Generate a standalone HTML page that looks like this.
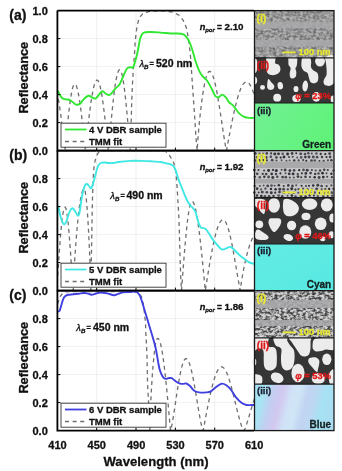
<!DOCTYPE html>
<html><head><meta charset="utf-8"><style>
html,body{margin:0;padding:0;background:#fff;width:342px;height:471px;overflow:hidden;font-family:"Liberation Sans",sans-serif;}
svg{display:block;filter:blur(0.45px);}
</style></head><body>
<svg width="342" height="471" viewBox="0 0 342 471">
<rect width="342" height="471" fill="#fff"/>
<defs><clipPath id="cp0"><rect x="57.4" y="10.6" width="196.6" height="140.0"/></clipPath></defs>
<path d="M57.4,122.6H254.0 M57.4,94.6H254.0 M57.4,66.6H254.0 M57.4,38.6H254.0 M96.7,10.6V150.6 M136.0,10.6V150.6 M175.4,10.6V150.6 M214.7,10.6V150.6" stroke="#ebebeb" stroke-width="0.8" fill="none"/>
<g clip-path="url(#cp0)">
<path d="M56.50,91.57 L57.00,93.29 L57.50,95.31 L58.00,97.60 L58.50,100.17 L59.00,102.99 L59.50,106.05 L60.00,109.34 L60.50,112.85 L61.00,116.54 L61.50,120.41 L62.00,124.43 L62.50,128.58 L63.00,132.85 L63.50,137.21 L64.00,141.63 L64.50,146.11 L65.00,150.60 L65.00,150.60 L65.51,145.17 L66.02,139.77 L66.52,134.45 L67.03,129.24 L67.54,124.17 L68.05,119.27 L68.55,114.58 L69.06,110.14 L69.57,105.96 L70.08,102.09 L70.58,98.53 L71.09,95.33 L71.60,92.49 L72.11,90.05 L72.61,88.00 L73.12,86.38 L73.63,85.18 L74.14,84.43 L74.64,84.11 L75.15,84.22 L75.66,84.71 L76.16,85.57 L76.67,86.81 L77.18,88.41 L77.69,90.36 L78.19,92.66 L78.70,95.29 L79.21,98.23 L79.72,101.47 L80.22,105.00 L80.73,108.78 L81.24,112.80 L81.75,117.04 L82.25,121.47 L82.76,126.07 L83.27,130.81 L83.78,135.65 L84.28,140.59 L84.79,145.58 L85.30,150.60 L85.30,150.60 L85.80,145.92 L86.30,141.25 L86.80,136.63 L87.30,132.07 L87.80,127.59 L88.30,123.22 L88.80,118.96 L89.30,114.85 L89.80,110.89 L90.30,107.11 L90.80,103.53 L91.30,100.15 L91.80,96.99 L92.30,94.07 L92.80,91.41 L93.30,89.00 L93.80,86.87 L94.30,85.02 L94.80,83.45 L95.30,82.19 L95.80,81.23 L96.30,80.58 L96.80,80.24 L97.30,80.21 L97.80,80.52 L98.30,81.17 L98.80,82.17 L99.30,83.51 L99.80,85.17 L100.30,87.15 L100.80,89.45 L101.30,92.05 L101.80,94.93 L102.30,98.09 L102.80,101.51 L103.30,105.17 L103.80,109.05 L104.30,113.13 L104.80,117.40 L105.30,121.84 L105.80,126.41 L106.30,131.11 L106.80,135.89 L107.30,140.76 L107.80,145.67 L108.30,150.60 L108.50,150.60 L109.00,144.88 L109.51,139.18 L110.01,133.55 L110.52,128.00 L111.02,122.56 L111.53,117.26 L112.03,112.13 L112.54,107.19 L113.04,102.47 L113.55,97.99 L114.05,93.77 L114.56,89.84 L115.06,86.21 L115.57,82.91 L116.07,79.94 L116.57,77.33 L117.08,75.09 L117.58,73.22 L118.09,71.74 L118.59,70.65 L119.10,69.97 L119.60,69.69 L120.11,69.83 L120.61,70.43 L121.12,71.49 L121.62,73.00 L122.13,74.95 L122.63,77.33 L123.13,80.13 L123.64,83.33 L124.14,86.92 L124.65,90.86 L125.15,95.15 L125.66,99.75 L126.16,104.64 L126.67,109.80 L127.17,115.19 L127.68,120.77 L128.18,126.53 L128.69,132.43 L129.19,138.43 L129.70,144.50 L130.20,150.60 L130.70,135.00 L131.20,120.40 L131.80,99.60 L132.50,83.20 L133.30,69.90 L134.40,55.00 L135.30,40.50 L136.50,30.00 L138.20,21.40 L140.30,16.50 L142.30,14.20 L148.40,11.60 L156.60,10.90 L164.80,10.90 L173.00,12.20 L179.10,15.20 L183.20,20.30 L186.30,27.50 L188.30,37.70 L189.60,48.00 L190.80,60.00 L191.80,75.00 L192.80,90.00 L193.80,104.00 L194.80,119.00 L195.80,135.00 L196.70,146.00 L197.20,150.00 L197.20,150.60 L197.71,141.76 L198.21,135.24 L198.72,129.41 L199.22,124.03 L199.73,118.99 L200.23,114.25 L200.74,109.78 L201.24,105.56 L201.75,101.59 L202.25,97.85 L202.76,94.35 L203.26,91.09 L203.77,88.07 L204.27,85.29 L204.78,82.76 L205.28,80.47 L205.79,78.43 L206.29,76.65 L206.80,75.12 L207.30,73.85 L207.81,72.84 L208.31,72.09 L208.82,71.60 L209.32,71.38 L209.83,71.40 L210.33,71.64 L210.84,72.09 L211.34,72.74 L211.85,73.59 L212.36,74.64 L212.86,75.88 L213.37,77.32 L213.87,78.95 L214.38,80.75 L214.88,82.73 L215.39,84.87 L215.89,87.18 L216.40,89.63 L216.90,92.23 L217.41,94.96 L217.91,97.81 L218.42,100.78 L218.92,103.84 L219.43,106.99 L219.93,110.21 L220.44,113.50 L220.94,116.84 L221.45,120.20 L221.95,123.59 L222.46,126.97 L222.96,130.34 L223.47,133.66 L223.97,136.93 L224.48,140.10 L224.98,143.14 L225.49,146.00 L225.99,148.60 L226.50,150.60 L226.50,150.60 L227.00,147.89 L227.50,145.19 L228.00,142.50 L228.50,139.82 L229.00,137.15 L229.50,134.51 L230.00,131.89 L230.50,129.30 L231.00,126.74 L231.50,124.22 L232.00,121.74 L232.50,119.31 L233.00,116.93 L233.50,114.60 L234.00,112.32 L234.50,110.10 L235.00,107.95 L235.50,105.86 L236.00,103.85 L236.50,101.90 L237.00,100.03 L237.50,98.24 L238.00,96.54 L238.50,94.91 L239.00,93.37 L239.50,91.93 L240.00,90.57 L240.50,89.31 L241.00,88.14 L241.50,87.07 L242.00,86.10 L242.50,85.22 L243.00,84.46 L243.50,83.79 L244.00,83.23 L244.50,82.77 L245.00,82.42 L245.50,82.17 L246.00,82.03 L246.50,82.00 L247.00,82.08 L247.50,82.27 L248.00,82.56 L248.50,82.97 L249.00,83.48 L249.50,84.11 L250.00,84.84 L250.50,85.67 L251.00,86.61 L251.50,87.65 L252.00,88.79 L252.50,90.04 L253.00,91.37 L253.50,92.81 L254.00,94.34 L254.50,95.95 L255.00,97.66" stroke="#6e6e6e" stroke-width="1.3" stroke-dasharray="4,3.6" fill="none"/>
<path d="M57.00,89.80 C57.25,90.22 58.00,91.43 58.50,92.30 C59.00,93.17 59.48,94.13 60.00,95.00 C60.52,95.87 60.85,96.80 61.60,97.50 C62.35,98.20 63.43,98.87 64.50,99.20 C65.57,99.53 66.92,99.25 68.00,99.50 C69.08,99.75 70.02,100.12 71.00,100.70 C71.98,101.28 73.10,102.35 73.90,103.00 C74.70,103.65 74.80,104.45 75.80,104.60 C76.80,104.75 78.50,104.88 79.90,103.90 C81.30,102.92 82.75,100.05 84.20,98.70 C85.65,97.35 87.13,95.92 88.60,95.80 C90.07,95.68 91.77,97.60 93.00,98.00 C94.23,98.40 94.78,99.03 96.00,98.20 C97.22,97.37 99.18,94.17 100.30,93.00 C101.42,91.83 101.70,91.03 102.70,91.20 C103.70,91.37 105.08,93.40 106.30,94.00 C107.52,94.60 108.55,95.63 110.00,94.80 C111.45,93.97 113.42,90.72 115.00,89.00 C116.58,87.28 118.07,86.75 119.50,84.50 C120.93,82.25 122.35,78.17 123.60,75.50 C124.85,72.83 125.82,69.88 127.00,68.50 C128.18,67.12 129.70,67.37 130.70,67.20 C131.70,67.03 132.23,68.53 133.00,67.50 C133.77,66.47 134.50,63.75 135.30,61.00 C136.10,58.25 136.98,54.75 137.80,51.00 C138.62,47.25 139.28,41.50 140.20,38.50 C141.12,35.50 141.58,34.08 143.30,33.00 C145.02,31.92 147.60,32.07 150.50,32.00 C153.40,31.93 157.28,32.35 160.70,32.60 C164.12,32.85 167.58,33.32 171.00,33.50 C174.42,33.68 178.82,33.33 181.20,33.70 C183.58,34.07 183.93,34.35 185.30,35.70 C186.67,37.05 188.25,39.50 189.40,41.80 C190.55,44.10 191.18,46.30 192.20,49.50 C193.22,52.70 194.37,57.53 195.50,61.00 C196.63,64.47 197.83,67.77 199.00,70.30 C200.17,72.83 201.13,74.45 202.50,76.20 C203.87,77.95 205.65,78.67 207.20,80.80 C208.75,82.93 210.45,86.47 211.80,89.00 C213.15,91.53 214.13,94.63 215.30,96.00 C216.47,97.37 217.65,97.43 218.80,97.20 C219.95,96.97 221.03,94.57 222.20,94.60 C223.37,94.63 224.62,96.08 225.80,97.40 C226.98,98.72 228.18,101.25 229.30,102.50 C230.42,103.75 231.40,103.78 232.50,104.90 C233.60,106.02 234.75,107.75 235.90,109.20 C237.05,110.65 237.95,112.30 239.40,113.60 C240.85,114.90 242.85,116.28 244.60,117.00 C246.35,117.72 248.33,117.75 249.90,117.90 C251.47,118.05 253.32,117.90 254.00,117.90" stroke="#30e830" stroke-width="1.9" fill="none" stroke-linejoin="round"/>
</g>
<path d="M57.4,122.6h3 M57.4,94.6h3 M57.4,66.6h3 M57.4,38.6h3 M96.7,150.6v-3 M136.0,150.6v-3 M175.4,150.6v-3 M214.7,150.6v-3" stroke="#000" stroke-width="1" fill="none"/>
<rect x="61" y="123.2" width="105" height="24" fill="#fff" stroke="#333" stroke-width="0.9"/>
<path d="M65,129.5H86.5" stroke="#30e830" stroke-width="1.8"/>
<path d="M65,141.5H86.5" stroke="#6e6e6e" stroke-width="1.3" stroke-dasharray="4,3.6"/>
<text x="89" y="132.8" font-size="9.5" font-family="&quot;Liberation Sans&quot;, sans-serif" font-weight="bold" fill="#111" stroke="#111" stroke-width="0.3">4 V DBR sample</text>
<text x="89" y="144.8" font-size="9.5" font-family="&quot;Liberation Sans&quot;, sans-serif" font-weight="bold" fill="#111" stroke="#111" stroke-width="0.3">TMM fit</text>
<text x="47.8" y="14.5" font-size="11" font-family="&quot;Liberation Sans&quot;, sans-serif" font-weight="bold" text-anchor="end" fill="#111" stroke="#111" stroke-width="0.3">1.0</text>
<text x="47.8" y="42.5" font-size="11" font-family="&quot;Liberation Sans&quot;, sans-serif" font-weight="bold" text-anchor="end" fill="#111" stroke="#111" stroke-width="0.3">0.8</text>
<text x="47.8" y="70.5" font-size="11" font-family="&quot;Liberation Sans&quot;, sans-serif" font-weight="bold" text-anchor="end" fill="#111" stroke="#111" stroke-width="0.3">0.6</text>
<text x="47.8" y="98.5" font-size="11" font-family="&quot;Liberation Sans&quot;, sans-serif" font-weight="bold" text-anchor="end" fill="#111" stroke="#111" stroke-width="0.3">0.4</text>
<text x="47.8" y="126.5" font-size="11" font-family="&quot;Liberation Sans&quot;, sans-serif" font-weight="bold" text-anchor="end" fill="#111" stroke="#111" stroke-width="0.3">0.2</text>
<text x="47.8" y="154.5" font-size="11" font-family="&quot;Liberation Sans&quot;, sans-serif" font-weight="bold" text-anchor="end" fill="#111" stroke="#111" stroke-width="0.3">0.0</text>
<text x="9.3" y="19.8" font-size="14" font-family="&quot;Liberation Sans&quot;, sans-serif" font-weight="bold" fill="#111" stroke="#111" stroke-width="0.3">(a)</text>
<text transform="translate(28.2,77.7) rotate(-90)" font-size="12.8" font-family="&quot;Liberation Sans&quot;, sans-serif" font-weight="bold" text-anchor="middle" fill="#111" stroke="#111" stroke-width="0.3">Reflectance</text>
<text x="199.8" y="30.0" font-size="9.2" font-family="&quot;Liberation Sans&quot;, sans-serif" font-weight="bold" font-style="italic" fill="#111" stroke="#111" stroke-width="0.3">n</text>
<text x="205.2" y="32.0" font-size="6.0" font-family="&quot;Liberation Sans&quot;, sans-serif" font-weight="bold" font-style="italic" fill="#111" stroke="#111" stroke-width="0.3">por</text>
<text x="216.9" y="29.6" font-size="8.4" font-family="&quot;Liberation Sans&quot;, sans-serif" font-weight="bold" fill="#111" stroke="#111" stroke-width="0.3">=</text>
<text x="224.5" y="30.0" font-size="9.8" font-family="&quot;Liberation Sans&quot;, sans-serif" font-weight="bold" fill="#111" stroke="#111" stroke-width="0.3">2.10</text>
<text x="139.4" y="67.0" font-size="9.4" font-family="&quot;Liberation Sans&quot;, sans-serif" font-style="italic" fill="#111" stroke="#111" stroke-width="0.3">λ</text>
<text x="144.1" y="68.6" font-size="6.2" font-family="&quot;Liberation Sans&quot;, sans-serif" font-weight="bold" font-style="italic" fill="#111" stroke="#111" stroke-width="0.3">B</text>
<text x="149.6" y="66.0" font-size="7.4" font-family="&quot;Liberation Sans&quot;, sans-serif" font-weight="bold" fill="#111" stroke="#111" stroke-width="0.3">=</text>
<text x="156.0" y="67.0" font-size="10.5" font-family="&quot;Liberation Sans&quot;, sans-serif" font-weight="bold" fill="#111" stroke="#111" stroke-width="0.3">520 nm</text>
<path d="M57.4,10.6V150.6H254.0 M57.4,10.6H254.0" stroke="#000" stroke-width="1.8" fill="none"/>
<defs><clipPath id="cp1"><rect x="57.4" y="150.6" width="196.6" height="140.0"/></clipPath></defs>
<path d="M57.4,262.6H254.0 M57.4,234.6H254.0 M57.4,206.6H254.0 M57.4,178.6H254.0 M96.7,150.6V290.6 M136.0,150.6V290.6 M175.4,150.6V290.6 M214.7,150.6V290.6" stroke="#ebebeb" stroke-width="0.8" fill="none"/>
<g clip-path="url(#cp1)">
<path d="M56.80,290.60 L56.80,290.60 L57.31,282.42 L57.82,274.32 L58.34,266.38 L58.85,258.67 L59.36,251.27 L59.88,244.24 L60.39,237.67 L60.90,231.60 L61.41,226.10 L61.92,221.22 L62.44,217.01 L62.95,213.51 L63.46,210.75 L63.98,208.76 L64.49,207.56 L65.00,207.16 L65.51,207.60 L66.03,208.92 L66.54,211.10 L67.05,214.12 L67.56,217.93 L68.08,222.49 L68.59,227.74 L69.10,233.61 L69.61,240.02 L70.12,246.89 L70.64,254.12 L71.15,261.59 L71.66,269.20 L72.17,276.78 L72.69,284.12 L73.20,290.60 L73.20,290.60 L73.70,277.47 L74.21,268.10 L74.71,259.84 L75.21,252.28 L75.71,245.28 L76.22,238.75 L76.72,232.64 L77.22,226.95 L77.73,221.65 L78.23,216.74 L78.73,212.22 L79.23,208.09 L79.74,204.35 L80.24,201.00 L80.74,198.05 L81.25,195.50 L81.75,193.36 L82.25,191.63 L82.75,190.31 L83.26,189.41 L83.76,188.92 L84.26,188.88 L84.77,189.79 L85.27,191.79 L85.77,194.89 L86.27,199.06 L86.78,204.30 L87.28,210.57 L87.78,217.88 L88.29,226.22 L88.79,235.60 L89.29,246.09 L89.79,257.86 L90.30,271.43 L90.80,290.60 L91.00,275.00 L91.40,256.00 L91.80,235.00 L92.10,216.00 L92.50,198.00 L92.90,185.00 L93.50,173.00 L94.10,166.50 L95.00,161.20 L96.10,156.80 L97.80,153.50 L99.50,151.90 L103.00,151.10 L140.00,150.90 L165.00,151.20 L167.50,152.60 L170.60,157.20 L172.90,161.00 L174.40,164.80 L175.90,172.50 L176.70,181.60 L177.50,193.90 L178.20,206.10 L178.80,216.00 L179.30,230.00 L179.70,245.00 L180.10,258.60 L180.60,274.00 L181.20,286.00 L181.50,290.00 L181.50,290.60 L182.01,283.85 L182.51,277.14 L183.02,270.51 L183.53,263.99 L184.03,257.62 L184.54,251.45 L185.04,245.49 L185.55,239.80 L186.06,234.40 L186.56,229.32 L187.07,224.59 L187.58,220.24 L188.08,216.30 L188.59,212.78 L189.10,209.71 L189.60,207.10 L190.11,204.97 L190.61,203.33 L191.12,202.19 L191.63,201.56 L192.13,201.43 L192.64,201.67 L193.15,202.24 L193.65,203.11 L194.16,204.31 L194.67,205.80 L195.17,207.61 L195.68,209.71 L196.19,212.09 L196.69,214.76 L197.20,217.70 L197.70,220.90 L198.21,224.35 L198.72,228.04 L199.22,231.95 L199.73,236.07 L200.24,240.39 L200.74,244.88 L201.25,249.54 L201.76,254.35 L202.26,259.28 L202.77,264.33 L203.27,269.47 L203.78,274.69 L204.29,279.96 L204.79,285.27 L205.30,290.60 L205.30,290.60 L205.80,287.45 L206.30,284.30 L206.80,281.17 L207.31,278.06 L207.81,274.97 L208.31,271.91 L208.81,268.89 L209.31,265.91 L209.81,262.98 L210.31,260.11 L210.82,257.29 L211.32,254.54 L211.82,251.87 L212.32,249.27 L212.82,246.75 L213.32,244.32 L213.82,241.98 L214.33,239.73 L214.83,237.59 L215.33,235.55 L215.83,233.62 L216.33,231.81 L216.83,230.11 L217.33,228.53 L217.84,227.07 L218.34,225.74 L218.84,224.54 L219.34,223.46 L219.84,222.52 L220.34,221.72 L220.84,221.05 L221.35,220.52 L221.85,220.13 L222.35,219.88 L222.85,219.77 L223.35,219.80 L223.85,220.00 L224.35,220.37 L224.86,220.90 L225.36,221.59 L225.86,222.45 L226.36,223.47 L226.86,224.64 L227.36,225.96 L227.86,227.43 L228.37,229.05 L228.87,230.80 L229.37,232.69 L229.87,234.71 L230.37,236.85 L230.87,239.10 L231.37,241.46 L231.88,243.92 L232.38,246.47 L232.88,249.11 L233.38,251.82 L233.88,254.60 L234.38,257.44 L234.88,260.32 L235.39,263.23 L235.89,266.17 L236.39,269.12 L236.89,272.07 L237.39,275.00 L237.89,277.90 L238.39,280.74 L238.90,283.49 L239.40,286.13 L239.90,288.59 L240.40,290.60 L240.40,290.60 L240.90,285.76 L241.40,282.18 L241.90,278.98 L242.41,275.99 L242.91,273.18 L243.41,270.51 L243.91,267.95 L244.41,265.50 L244.91,263.14 L245.41,260.88 L245.91,258.71 L246.42,256.62 L246.92,254.62 L247.42,252.70 L247.92,250.87 L248.42,249.12 L248.92,247.46 L249.42,245.88 L249.92,244.38 L250.43,242.97 L250.93,241.65 L251.43,240.41 L251.93,239.26 L252.43,238.20 L252.93,237.22 L253.43,236.34 L253.93,235.55 L254.44,234.84 L254.94,234.23" stroke="#6e6e6e" stroke-width="1.3" stroke-dasharray="4,3.6" fill="none"/>
<path d="M57.00,206.00 C57.27,206.30 58.03,206.13 58.60,207.80 C59.17,209.47 59.80,213.72 60.40,216.00 C61.00,218.28 61.60,220.08 62.20,221.50 C62.80,222.92 63.45,224.25 64.00,224.50 C64.55,224.75 65.03,223.73 65.50,223.00 C65.97,222.27 66.13,221.95 66.80,220.10 C67.47,218.25 68.60,213.87 69.50,211.90 C70.40,209.93 71.28,208.45 72.20,208.30 C73.12,208.15 74.08,209.78 75.00,211.00 C75.92,212.22 76.95,215.30 77.70,215.60 C78.45,215.90 78.88,215.38 79.50,212.80 C80.12,210.22 80.78,203.75 81.40,200.10 C82.02,196.45 82.52,193.50 83.20,190.90 C83.88,188.30 84.82,185.62 85.50,184.50 C86.18,183.38 86.63,183.85 87.30,184.20 C87.97,184.55 88.85,185.92 89.50,186.60 C90.15,187.28 90.65,188.67 91.20,188.30 C91.75,187.93 92.17,186.33 92.80,184.40 C93.43,182.47 94.35,179.10 95.00,176.70 C95.65,174.30 96.15,171.83 96.70,170.00 C97.25,168.17 97.65,166.87 98.30,165.70 C98.95,164.53 99.58,163.53 100.60,163.00 C101.62,162.47 103.00,162.50 104.40,162.50 C105.80,162.50 107.45,162.92 109.00,163.00 C110.55,163.08 112.13,163.17 113.70,163.00 C115.27,162.83 115.67,162.35 118.40,162.00 C121.13,161.65 126.20,161.08 130.10,160.90 C134.00,160.72 138.30,160.83 141.80,160.90 C145.30,160.97 147.98,161.12 151.10,161.30 C154.22,161.48 158.02,161.67 160.50,162.00 C162.98,162.33 164.32,162.92 166.00,163.30 C167.68,163.68 169.33,163.80 170.60,164.30 C171.87,164.80 172.72,165.20 173.60,166.30 C174.48,167.40 175.13,168.85 175.90,170.90 C176.67,172.95 177.30,176.02 178.20,178.60 C179.10,181.18 180.28,183.83 181.30,186.40 C182.32,188.97 183.28,191.57 184.30,194.00 C185.32,196.43 186.42,199.12 187.40,201.00 C188.38,202.88 189.32,204.17 190.20,205.30 C191.08,206.43 191.85,206.73 192.70,207.80 C193.55,208.87 194.55,210.00 195.30,211.70 C196.05,213.40 196.57,215.88 197.20,218.00 C197.83,220.12 198.47,222.80 199.10,224.40 C199.73,226.00 200.25,226.97 201.00,227.60 C201.75,228.23 202.85,227.98 203.60,228.20 C204.35,228.42 204.77,228.27 205.50,228.90 C206.23,229.53 207.05,230.63 208.00,232.00 C208.95,233.37 210.13,235.50 211.20,237.10 C212.27,238.70 213.23,240.12 214.40,241.60 C215.57,243.08 217.02,244.72 218.20,246.00 C219.38,247.28 220.30,248.83 221.50,249.30 C222.70,249.77 223.93,249.20 225.40,248.80 C226.87,248.40 228.83,246.73 230.30,246.90 C231.77,247.07 232.73,248.50 234.20,249.80 C235.67,251.10 237.48,253.23 239.10,254.70 C240.72,256.17 242.28,257.37 243.90,258.60 C245.52,259.83 247.33,261.28 248.80,262.10 C250.27,262.92 251.83,263.22 252.70,263.50 C253.57,263.78 253.78,263.75 254.00,263.80" stroke="#40e8e4" stroke-width="1.9" fill="none" stroke-linejoin="round"/>
</g>
<path d="M57.4,262.6h3 M57.4,234.6h3 M57.4,206.6h3 M57.4,178.6h3 M96.7,290.6v-3 M136.0,290.6v-3 M175.4,290.6v-3 M214.7,290.6v-3" stroke="#000" stroke-width="1" fill="none"/>
<rect x="61" y="263.2" width="105" height="24" fill="#fff" stroke="#333" stroke-width="0.9"/>
<path d="M65,269.5H86.5" stroke="#40e8e4" stroke-width="1.8"/>
<path d="M65,281.5H86.5" stroke="#6e6e6e" stroke-width="1.3" stroke-dasharray="4,3.6"/>
<text x="89" y="272.8" font-size="9.5" font-family="&quot;Liberation Sans&quot;, sans-serif" font-weight="bold" fill="#111" stroke="#111" stroke-width="0.3">5 V DBR sample</text>
<text x="89" y="284.8" font-size="9.5" font-family="&quot;Liberation Sans&quot;, sans-serif" font-weight="bold" fill="#111" stroke="#111" stroke-width="0.3">TMM fit</text>
<text x="47.8" y="182.5" font-size="11" font-family="&quot;Liberation Sans&quot;, sans-serif" font-weight="bold" text-anchor="end" fill="#111" stroke="#111" stroke-width="0.3">0.8</text>
<text x="47.8" y="210.5" font-size="11" font-family="&quot;Liberation Sans&quot;, sans-serif" font-weight="bold" text-anchor="end" fill="#111" stroke="#111" stroke-width="0.3">0.6</text>
<text x="47.8" y="238.5" font-size="11" font-family="&quot;Liberation Sans&quot;, sans-serif" font-weight="bold" text-anchor="end" fill="#111" stroke="#111" stroke-width="0.3">0.4</text>
<text x="47.8" y="266.5" font-size="11" font-family="&quot;Liberation Sans&quot;, sans-serif" font-weight="bold" text-anchor="end" fill="#111" stroke="#111" stroke-width="0.3">0.2</text>
<text x="47.8" y="294.5" font-size="11" font-family="&quot;Liberation Sans&quot;, sans-serif" font-weight="bold" text-anchor="end" fill="#111" stroke="#111" stroke-width="0.3">0.0</text>
<text x="9.3" y="159.8" font-size="14" font-family="&quot;Liberation Sans&quot;, sans-serif" font-weight="bold" fill="#111" stroke="#111" stroke-width="0.3">(b)</text>
<text transform="translate(28.2,217.7) rotate(-90)" font-size="12.8" font-family="&quot;Liberation Sans&quot;, sans-serif" font-weight="bold" text-anchor="middle" fill="#111" stroke="#111" stroke-width="0.3">Reflectance</text>
<text x="199.8" y="170.0" font-size="9.2" font-family="&quot;Liberation Sans&quot;, sans-serif" font-weight="bold" font-style="italic" fill="#111" stroke="#111" stroke-width="0.3">n</text>
<text x="205.2" y="172.0" font-size="6.0" font-family="&quot;Liberation Sans&quot;, sans-serif" font-weight="bold" font-style="italic" fill="#111" stroke="#111" stroke-width="0.3">por</text>
<text x="216.9" y="169.6" font-size="8.4" font-family="&quot;Liberation Sans&quot;, sans-serif" font-weight="bold" fill="#111" stroke="#111" stroke-width="0.3">=</text>
<text x="224.5" y="170.0" font-size="9.8" font-family="&quot;Liberation Sans&quot;, sans-serif" font-weight="bold" fill="#111" stroke="#111" stroke-width="0.3">1.92</text>
<text x="110.2" y="199.0" font-size="9.4" font-family="&quot;Liberation Sans&quot;, sans-serif" font-style="italic" fill="#111" stroke="#111" stroke-width="0.3">λ</text>
<text x="114.9" y="200.6" font-size="6.2" font-family="&quot;Liberation Sans&quot;, sans-serif" font-weight="bold" font-style="italic" fill="#111" stroke="#111" stroke-width="0.3">B</text>
<text x="120.4" y="198.0" font-size="7.4" font-family="&quot;Liberation Sans&quot;, sans-serif" font-weight="bold" fill="#111" stroke="#111" stroke-width="0.3">=</text>
<text x="126.5" y="199.0" font-size="10.5" font-family="&quot;Liberation Sans&quot;, sans-serif" font-weight="bold" fill="#111" stroke="#111" stroke-width="0.3">490 nm</text>
<path d="M57.4,150.6V290.6H254.0 M57.4,150.6H254.0" stroke="#000" stroke-width="1.8" fill="none"/>
<defs><clipPath id="cp2"><rect x="57.4" y="290.6" width="196.6" height="140.0"/></clipPath></defs>
<path d="M57.4,402.6H254.0 M57.4,374.6H254.0 M57.4,346.6H254.0 M57.4,318.6H254.0 M96.7,290.6V430.6 M136.0,290.6V430.6 M175.4,290.6V430.6 M214.7,290.6V430.6" stroke="#ebebeb" stroke-width="0.8" fill="none"/>
<g clip-path="url(#cp2)">
<path d="M57.50,304.00 L59.00,300.00 L60.50,296.00 L62.50,293.20 L66.00,291.90 L72.00,291.50 L130.00,291.50 L136.00,291.90 L139.50,293.00 L141.50,297.00 L143.20,303.30 L144.40,312.50 L145.50,323.20 L145.90,333.90 L146.50,346.10 L147.00,355.30 L147.20,367.40 L147.60,384.80 L148.50,400.50 L149.20,415.00 L149.80,430.00 L149.80,430.60 L150.30,412.16 L150.81,400.76 L151.31,391.19 L151.82,382.80 L152.32,375.32 L152.83,368.62 L153.33,362.63 L153.84,357.33 L154.34,352.69 L154.85,348.70 L155.35,345.36 L155.86,342.66 L156.36,340.62 L156.87,339.22 L157.37,338.48 L157.88,338.36 L158.38,338.66 L158.89,339.32 L159.39,340.32 L159.90,341.67 L160.40,343.37 L160.91,345.39 L161.41,347.75 L161.92,350.42 L162.42,353.40 L162.93,356.68 L163.43,360.24 L163.94,364.07 L164.44,368.15 L164.95,372.48 L165.45,377.03 L165.96,381.78 L166.46,386.72 L166.97,391.83 L167.47,397.09 L167.98,402.47 L168.48,407.97 L168.99,413.55 L169.49,419.20 L170.00,424.89 L170.50,430.60 L170.50,430.60 L171.00,429.10 L171.51,426.91 L172.01,424.37 L172.51,421.57 L173.02,418.60 L173.52,415.48 L174.02,412.26 L174.52,408.97 L175.03,405.64 L175.53,402.28 L176.03,398.93 L176.54,395.60 L177.04,392.33 L177.54,389.11 L178.05,385.98 L178.55,382.95 L179.05,380.04 L179.56,377.27 L180.06,374.64 L180.56,372.17 L181.06,369.88 L181.57,367.78 L182.07,365.87 L182.57,364.17 L183.08,362.69 L183.58,361.43 L184.08,360.39 L184.59,359.60 L185.09,359.04 L185.59,358.72 L186.10,358.64 L186.60,358.79 L187.10,359.15 L187.60,359.72 L188.11,360.49 L188.61,361.47 L189.11,362.65 L189.62,364.03 L190.12,365.59 L190.62,367.33 L191.13,369.24 L191.63,371.32 L192.13,373.54 L192.64,375.91 L193.14,378.42 L193.64,381.03 L194.14,383.76 L194.65,386.57 L195.15,389.47 L195.65,392.42 L196.16,395.42 L196.66,398.45 L197.16,401.50 L197.67,404.54 L198.17,407.55 L198.67,410.52 L199.18,413.43 L199.68,416.25 L200.18,418.96 L200.68,421.53 L201.19,423.94 L201.69,426.13 L202.19,428.06 L202.70,429.64 L203.20,430.60 L203.20,430.60 L203.70,427.85 L204.21,425.12 L204.71,422.39 L205.22,419.67 L205.72,416.98 L206.23,414.31 L206.73,411.67 L207.24,409.07 L207.74,406.50 L208.25,403.98 L208.75,401.51 L209.26,399.10 L209.76,396.74 L210.27,394.45 L210.77,392.22 L211.28,390.07 L211.78,387.99 L212.29,385.99 L212.79,384.07 L213.30,382.24 L213.80,380.50 L214.31,378.85 L214.81,377.29 L215.32,375.84 L215.82,374.49 L216.33,373.24 L216.83,372.10 L217.34,371.07 L217.84,370.15 L218.35,369.34 L218.85,368.64 L219.36,368.06 L219.86,367.60 L220.37,367.25 L220.87,367.02 L221.38,366.91 L221.88,366.92 L222.39,367.04 L222.89,367.29 L223.40,367.65 L223.90,368.13 L224.41,368.72 L224.91,369.43 L225.42,370.24 L225.92,371.17 L226.43,372.20 L226.93,373.33 L227.44,374.56 L227.94,375.89 L228.45,377.30 L228.95,378.81 L229.46,380.39 L229.96,382.05 L230.47,383.78 L230.97,385.57 L231.48,387.43 L231.98,389.34 L232.49,391.29 L232.99,393.29 L233.50,395.31 L234.00,397.37 L234.51,399.44 L235.01,401.53 L235.52,403.62 L236.02,405.70 L236.53,407.78 L237.03,409.83 L237.54,411.86 L238.04,413.85 L238.55,415.79 L239.05,417.68 L239.56,419.50 L240.06,421.25 L240.57,422.91 L241.07,424.47 L241.58,425.92 L242.08,427.24 L242.59,428.42 L243.09,429.41 L243.60,430.18 L244.10,430.60 L244.10,430.60 L244.60,429.66 L245.11,428.45 L245.61,427.10 L246.12,425.66 L246.62,424.16 L247.13,422.60 L247.63,421.01 L248.13,419.38 L248.64,417.72 L249.14,416.04 L249.65,414.36 L250.15,412.66 L250.65,410.96 L251.16,409.26 L251.66,407.57 L252.17,405.89 L252.67,404.22 L253.18,402.57 L253.68,400.94 L254.18,399.33 L254.69,397.75" stroke="#6e6e6e" stroke-width="1.3" stroke-dasharray="4,3.6" fill="none"/>
<path d="M57.00,311.50 C57.23,311.48 57.95,311.55 58.40,311.40 C58.85,311.25 59.27,311.47 59.70,310.60 C60.13,309.73 60.57,307.67 61.00,306.20 C61.43,304.73 61.87,303.12 62.30,301.80 C62.73,300.48 63.08,299.25 63.60,298.30 C64.12,297.35 64.67,296.68 65.40,296.10 C66.13,295.52 66.68,295.10 68.00,294.80 C69.32,294.50 71.53,294.48 73.30,294.30 C75.07,294.12 76.82,293.92 78.60,293.70 C80.38,293.48 82.57,293.07 84.00,293.00 C85.43,292.93 85.95,293.00 87.20,293.30 C88.45,293.60 90.03,294.77 91.50,294.80 C92.97,294.83 94.53,293.88 96.00,293.50 C97.47,293.12 98.47,292.52 100.30,292.50 C102.13,292.48 104.72,292.95 107.00,293.40 C109.28,293.85 112.25,295.08 114.00,295.20 C115.75,295.32 116.03,294.57 117.50,294.10 C118.97,293.63 120.75,292.75 122.80,292.40 C124.85,292.05 127.93,292.13 129.80,292.00 C131.67,291.87 132.78,291.55 134.00,291.60 C135.22,291.65 136.20,291.75 137.10,292.30 C138.00,292.85 138.65,293.58 139.40,294.90 C140.15,296.22 140.85,298.03 141.60,300.20 C142.35,302.37 143.13,305.35 143.90,307.90 C144.67,310.45 145.43,312.95 146.20,315.50 C146.97,318.05 147.73,320.65 148.50,323.20 C149.27,325.75 150.03,328.25 150.80,330.80 C151.57,333.35 152.33,335.80 153.10,338.50 C153.87,341.20 154.75,344.20 155.40,347.00 C156.05,349.80 156.52,352.65 157.00,355.30 C157.48,357.95 157.87,360.57 158.30,362.90 C158.73,365.23 159.07,367.38 159.60,369.30 C160.13,371.22 160.87,373.02 161.50,374.40 C162.13,375.78 162.67,376.85 163.40,377.60 C164.13,378.35 164.95,378.83 165.90,378.90 C166.85,378.97 168.13,378.12 169.10,378.00 C170.07,377.88 170.85,377.85 171.70,378.20 C172.55,378.55 173.35,379.47 174.20,380.10 C175.05,380.73 175.95,381.47 176.80,382.00 C177.65,382.53 178.25,382.98 179.30,383.30 C180.35,383.62 181.93,383.87 183.10,383.90 C184.27,383.93 185.15,383.15 186.30,383.50 C187.45,383.85 188.67,384.78 190.00,386.00 C191.33,387.22 192.80,389.73 194.30,390.80 C195.80,391.87 197.03,392.13 199.00,392.40 C200.97,392.67 204.12,392.58 206.10,392.40 C208.08,392.22 209.12,392.28 210.90,391.30 C212.68,390.32 215.02,387.77 216.80,386.50 C218.58,385.23 220.02,383.90 221.60,383.70 C223.18,383.50 224.72,384.25 226.30,385.30 C227.88,386.35 229.52,388.02 231.10,390.00 C232.68,391.98 234.02,395.02 235.80,397.20 C237.58,399.38 240.02,401.80 241.80,403.10 C243.58,404.40 244.47,404.68 246.50,405.00 C248.53,405.32 252.75,405.00 254.00,405.00" stroke="#4040e0" stroke-width="1.9" fill="none" stroke-linejoin="round"/>
</g>
<path d="M57.4,402.6h3 M57.4,374.6h3 M57.4,346.6h3 M57.4,318.6h3 M96.7,430.6v-3 M136.0,430.6v-3 M175.4,430.6v-3 M214.7,430.6v-3" stroke="#000" stroke-width="1" fill="none"/>
<rect x="61" y="403.2" width="105" height="24" fill="#fff" stroke="#333" stroke-width="0.9"/>
<path d="M65,409.5H86.5" stroke="#4040e0" stroke-width="1.8"/>
<path d="M65,421.5H86.5" stroke="#6e6e6e" stroke-width="1.3" stroke-dasharray="4,3.6"/>
<text x="89" y="412.8" font-size="9.5" font-family="&quot;Liberation Sans&quot;, sans-serif" font-weight="bold" fill="#111" stroke="#111" stroke-width="0.3">6 V DBR sample</text>
<text x="89" y="424.8" font-size="9.5" font-family="&quot;Liberation Sans&quot;, sans-serif" font-weight="bold" fill="#111" stroke="#111" stroke-width="0.3">TMM fit</text>
<text x="47.8" y="322.5" font-size="11" font-family="&quot;Liberation Sans&quot;, sans-serif" font-weight="bold" text-anchor="end" fill="#111" stroke="#111" stroke-width="0.3">0.8</text>
<text x="47.8" y="350.5" font-size="11" font-family="&quot;Liberation Sans&quot;, sans-serif" font-weight="bold" text-anchor="end" fill="#111" stroke="#111" stroke-width="0.3">0.6</text>
<text x="47.8" y="378.5" font-size="11" font-family="&quot;Liberation Sans&quot;, sans-serif" font-weight="bold" text-anchor="end" fill="#111" stroke="#111" stroke-width="0.3">0.4</text>
<text x="47.8" y="406.5" font-size="11" font-family="&quot;Liberation Sans&quot;, sans-serif" font-weight="bold" text-anchor="end" fill="#111" stroke="#111" stroke-width="0.3">0.2</text>
<text x="47.8" y="434.5" font-size="11" font-family="&quot;Liberation Sans&quot;, sans-serif" font-weight="bold" text-anchor="end" fill="#111" stroke="#111" stroke-width="0.3">0.0</text>
<text x="9.3" y="299.8" font-size="14" font-family="&quot;Liberation Sans&quot;, sans-serif" font-weight="bold" fill="#111" stroke="#111" stroke-width="0.3">(c)</text>
<text transform="translate(28.2,357.7) rotate(-90)" font-size="12.8" font-family="&quot;Liberation Sans&quot;, sans-serif" font-weight="bold" text-anchor="middle" fill="#111" stroke="#111" stroke-width="0.3">Reflectance</text>
<text x="199.8" y="310.0" font-size="9.2" font-family="&quot;Liberation Sans&quot;, sans-serif" font-weight="bold" font-style="italic" fill="#111" stroke="#111" stroke-width="0.3">n</text>
<text x="205.2" y="312.0" font-size="6.0" font-family="&quot;Liberation Sans&quot;, sans-serif" font-weight="bold" font-style="italic" fill="#111" stroke="#111" stroke-width="0.3">por</text>
<text x="216.9" y="309.6" font-size="8.4" font-family="&quot;Liberation Sans&quot;, sans-serif" font-weight="bold" fill="#111" stroke="#111" stroke-width="0.3">=</text>
<text x="224.5" y="310.0" font-size="9.8" font-family="&quot;Liberation Sans&quot;, sans-serif" font-weight="bold" fill="#111" stroke="#111" stroke-width="0.3">1.86</text>
<text x="76.2" y="331.0" font-size="9.4" font-family="&quot;Liberation Sans&quot;, sans-serif" font-style="italic" fill="#111" stroke="#111" stroke-width="0.3">λ</text>
<text x="80.9" y="332.6" font-size="6.2" font-family="&quot;Liberation Sans&quot;, sans-serif" font-weight="bold" font-style="italic" fill="#111" stroke="#111" stroke-width="0.3">B</text>
<text x="86.4" y="330.0" font-size="7.4" font-family="&quot;Liberation Sans&quot;, sans-serif" font-weight="bold" fill="#111" stroke="#111" stroke-width="0.3">=</text>
<text x="93.0" y="331.0" font-size="10.5" font-family="&quot;Liberation Sans&quot;, sans-serif" font-weight="bold" fill="#111" stroke="#111" stroke-width="0.3">450 nm</text>
<path d="M57.4,290.6V430.6H254.0 M57.4,290.6H254.0" stroke="#000" stroke-width="1.8" fill="none"/>
<text x="57.5" y="449" font-size="11" font-family="&quot;Liberation Sans&quot;, sans-serif" font-weight="bold" text-anchor="middle" fill="#111" stroke="#111" stroke-width="0.3">410</text>
<text x="96.8" y="449" font-size="11" font-family="&quot;Liberation Sans&quot;, sans-serif" font-weight="bold" text-anchor="middle" fill="#111" stroke="#111" stroke-width="0.3">450</text>
<text x="136.1" y="449" font-size="11" font-family="&quot;Liberation Sans&quot;, sans-serif" font-weight="bold" text-anchor="middle" fill="#111" stroke="#111" stroke-width="0.3">490</text>
<text x="175.5" y="449" font-size="11" font-family="&quot;Liberation Sans&quot;, sans-serif" font-weight="bold" text-anchor="middle" fill="#111" stroke="#111" stroke-width="0.3">530</text>
<text x="214.8" y="449" font-size="11" font-family="&quot;Liberation Sans&quot;, sans-serif" font-weight="bold" text-anchor="middle" fill="#111" stroke="#111" stroke-width="0.3">570</text>
<text x="254.1" y="449" font-size="11" font-family="&quot;Liberation Sans&quot;, sans-serif" font-weight="bold" text-anchor="middle" fill="#111" stroke="#111" stroke-width="0.3">610</text>
<text x="156" y="466" font-size="13.1" font-family="&quot;Liberation Sans&quot;, sans-serif" font-weight="bold" text-anchor="middle" fill="#111" stroke="#111" stroke-width="0.3">Wavelength (nm)</text>
<filter id="semf0" x="254.5" y="10.6" width="79.5" height="47.2" filterUnits="userSpaceOnUse" color-interpolation-filters="sRGB"><feTurbulence type="fractalNoise" baseFrequency="0.3 0.42" numOctaves="2" seed="3"/><feColorMatrix type="matrix" values="1 0 0 0 0  1 0 0 0 0  1 0 0 0 0  0 0 0 0 1"/><feComponentTransfer><feFuncR type="table" tableValues="0.36 0.4 0.52 0.66 0.72 0.76"/><feFuncG type="table" tableValues="0.36 0.4 0.52 0.66 0.72 0.76"/><feFuncB type="table" tableValues="0.36 0.4 0.52 0.66 0.72 0.76"/></feComponentTransfer></filter>
<rect x="254.5" y="10.6" width="79.5" height="47.2" fill="#888" filter="url(#semf0)"/>
<rect x="254.5" y="21.5" width="79.5" height="6.8" fill="#a9a9ab" opacity="0.86"/>
<rect x="254.5" y="40.0" width="79.5" height="6.6" fill="#a9a9ab" opacity="0.86"/>
<rect x="254.5" y="150.6" width="79.5" height="47.0" fill="#c6c6c8"/>
<circle cx="255.2" cy="153.4" r="1.46" fill="rgb(64,64,70)"/>
<circle cx="259.5" cy="153.7" r="1.11" fill="rgb(52,52,58)"/>
<circle cx="263.2" cy="153.6" r="1.04" fill="rgb(80,80,86)"/>
<circle cx="266.8" cy="153.4" r="1.30" fill="rgb(68,68,74)"/>
<circle cx="271.1" cy="153.4" r="1.09" fill="rgb(58,58,64)"/>
<circle cx="274.8" cy="154.1" r="1.48" fill="rgb(52,52,58)"/>
<circle cx="278.5" cy="153.8" r="1.38" fill="rgb(45,45,51)"/>
<circle cx="282.7" cy="153.7" r="1.30" fill="rgb(84,84,90)"/>
<circle cx="287.6" cy="154.0" r="1.46" fill="rgb(45,45,51)"/>
<circle cx="292.1" cy="153.5" r="1.40" fill="rgb(66,66,72)"/>
<circle cx="296.2" cy="153.2" r="1.00" fill="rgb(49,49,55)"/>
<circle cx="300.7" cy="153.8" r="1.40" fill="rgb(67,67,73)"/>
<circle cx="305.0" cy="154.1" r="1.45" fill="rgb(77,77,83)"/>
<circle cx="308.3" cy="153.2" r="1.25" fill="rgb(76,76,82)"/>
<circle cx="311.8" cy="153.5" r="1.08" fill="rgb(76,76,82)"/>
<circle cx="316.4" cy="153.6" r="1.27" fill="rgb(82,82,88)"/>
<circle cx="320.7" cy="154.0" r="1.14" fill="rgb(49,49,55)"/>
<circle cx="325.3" cy="154.1" r="1.15" fill="rgb(45,45,51)"/>
<circle cx="329.6" cy="153.6" r="1.42" fill="rgb(65,65,71)"/>
<circle cx="256.9" cy="157.2" r="1.18" fill="rgb(84,84,90)"/>
<circle cx="261.6" cy="156.8" r="1.20" fill="rgb(73,73,79)"/>
<circle cx="266.1" cy="157.5" r="1.47" fill="rgb(61,61,67)"/>
<circle cx="270.8" cy="156.7" r="1.24" fill="rgb(71,71,77)"/>
<circle cx="276.4" cy="157.4" r="1.37" fill="rgb(73,73,79)"/>
<circle cx="280.7" cy="157.6" r="1.16" fill="rgb(48,48,54)"/>
<circle cx="284.0" cy="157.0" r="1.40" fill="rgb(47,47,53)"/>
<circle cx="289.0" cy="156.9" r="0.98" fill="rgb(54,54,60)"/>
<circle cx="292.7" cy="156.8" r="1.06" fill="rgb(77,77,83)"/>
<circle cx="297.2" cy="157.5" r="0.98" fill="rgb(83,83,89)"/>
<circle cx="301.2" cy="157.4" r="1.31" fill="rgb(84,84,90)"/>
<circle cx="305.4" cy="157.1" r="1.31" fill="rgb(54,54,60)"/>
<circle cx="309.0" cy="157.0" r="1.44" fill="rgb(63,63,69)"/>
<circle cx="313.3" cy="157.1" r="1.48" fill="rgb(76,76,82)"/>
<circle cx="317.1" cy="157.2" r="1.36" fill="rgb(75,75,81)"/>
<circle cx="322.0" cy="157.0" r="1.18" fill="rgb(57,57,63)"/>
<circle cx="326.5" cy="157.1" r="1.10" fill="rgb(50,50,56)"/>
<circle cx="330.1" cy="156.9" r="1.32" fill="rgb(69,69,75)"/>
<circle cx="255.1" cy="160.7" r="1.35" fill="rgb(69,69,75)"/>
<circle cx="259.6" cy="160.4" r="1.38" fill="rgb(69,69,75)"/>
<circle cx="263.2" cy="160.1" r="1.14" fill="rgb(45,45,51)"/>
<circle cx="266.9" cy="160.3" r="1.14" fill="rgb(68,68,74)"/>
<circle cx="272.2" cy="160.2" r="1.44" fill="rgb(74,74,80)"/>
<circle cx="276.5" cy="160.5" r="1.04" fill="rgb(70,70,76)"/>
<circle cx="281.6" cy="160.2" r="1.02" fill="rgb(82,82,88)"/>
<circle cx="286.4" cy="160.8" r="1.03" fill="rgb(77,77,83)"/>
<circle cx="289.6" cy="160.4" r="0.95" fill="rgb(78,78,84)"/>
<circle cx="294.2" cy="160.6" r="1.37" fill="rgb(68,68,74)"/>
<circle cx="298.6" cy="160.5" r="1.14" fill="rgb(74,74,80)"/>
<circle cx="303.2" cy="160.1" r="1.08" fill="rgb(62,62,68)"/>
<circle cx="306.3" cy="160.9" r="1.15" fill="rgb(53,53,59)"/>
<circle cx="311.5" cy="160.7" r="1.44" fill="rgb(73,73,79)"/>
<circle cx="314.8" cy="160.6" r="1.34" fill="rgb(77,77,83)"/>
<circle cx="319.4" cy="161.0" r="1.09" fill="rgb(56,56,62)"/>
<circle cx="323.6" cy="161.0" r="1.27" fill="rgb(80,80,86)"/>
<circle cx="327.9" cy="160.3" r="1.14" fill="rgb(76,76,82)"/>
<circle cx="331.4" cy="160.2" r="1.32" fill="rgb(59,59,65)"/>
<rect x="254.5" y="161.6" width="79.5" height="6.4" fill="#a9a9ac"/>
<circle cx="254.3" cy="170.1" r="1.40" fill="rgb(62,62,68)"/>
<circle cx="258.5" cy="169.9" r="0.99" fill="rgb(46,46,52)"/>
<circle cx="264.1" cy="170.5" r="1.02" fill="rgb(59,59,65)"/>
<circle cx="268.6" cy="170.6" r="1.48" fill="rgb(45,45,51)"/>
<circle cx="273.0" cy="170.0" r="1.16" fill="rgb(59,59,65)"/>
<circle cx="276.3" cy="170.4" r="1.50" fill="rgb(46,46,52)"/>
<circle cx="281.6" cy="169.7" r="0.99" fill="rgb(66,66,72)"/>
<circle cx="285.1" cy="169.9" r="1.48" fill="rgb(63,63,69)"/>
<circle cx="289.9" cy="170.6" r="1.35" fill="rgb(50,50,56)"/>
<circle cx="294.1" cy="170.4" r="1.35" fill="rgb(71,71,77)"/>
<circle cx="299.2" cy="170.1" r="1.22" fill="rgb(48,48,54)"/>
<circle cx="303.5" cy="169.9" r="1.36" fill="rgb(77,77,83)"/>
<circle cx="307.2" cy="170.3" r="1.49" fill="rgb(60,60,66)"/>
<circle cx="311.9" cy="170.0" r="1.07" fill="rgb(59,59,65)"/>
<circle cx="315.7" cy="170.5" r="1.11" fill="rgb(75,75,81)"/>
<circle cx="320.1" cy="170.5" r="1.22" fill="rgb(69,69,75)"/>
<circle cx="324.2" cy="169.7" r="1.24" fill="rgb(62,62,68)"/>
<circle cx="327.8" cy="170.0" r="1.11" fill="rgb(59,59,65)"/>
<circle cx="333.4" cy="170.6" r="1.18" fill="rgb(80,80,86)"/>
<circle cx="257.2" cy="173.8" r="1.27" fill="rgb(65,65,71)"/>
<circle cx="262.7" cy="173.9" r="1.14" fill="rgb(60,60,66)"/>
<circle cx="266.2" cy="173.9" r="1.27" fill="rgb(62,62,68)"/>
<circle cx="271.7" cy="173.9" r="1.31" fill="rgb(53,53,59)"/>
<circle cx="276.0" cy="174.0" r="1.23" fill="rgb(71,71,77)"/>
<circle cx="280.4" cy="173.4" r="1.05" fill="rgb(46,46,52)"/>
<circle cx="285.5" cy="173.3" r="1.01" fill="rgb(82,82,88)"/>
<circle cx="289.2" cy="173.8" r="1.40" fill="rgb(54,54,60)"/>
<circle cx="293.1" cy="173.9" r="1.46" fill="rgb(52,52,58)"/>
<circle cx="297.7" cy="174.0" r="1.11" fill="rgb(55,55,61)"/>
<circle cx="301.9" cy="173.3" r="1.10" fill="rgb(54,54,60)"/>
<circle cx="305.8" cy="173.4" r="1.32" fill="rgb(51,51,57)"/>
<circle cx="310.6" cy="173.1" r="1.28" fill="rgb(58,58,64)"/>
<circle cx="315.2" cy="173.9" r="1.20" fill="rgb(57,57,63)"/>
<circle cx="318.5" cy="173.4" r="1.23" fill="rgb(70,70,76)"/>
<circle cx="322.5" cy="173.2" r="1.38" fill="rgb(47,47,53)"/>
<circle cx="326.5" cy="173.3" r="1.05" fill="rgb(78,78,84)"/>
<circle cx="331.4" cy="173.7" r="1.22" fill="rgb(48,48,54)"/>
<circle cx="254.8" cy="176.8" r="1.15" fill="rgb(45,45,51)"/>
<circle cx="259.8" cy="177.2" r="1.24" fill="rgb(76,76,82)"/>
<circle cx="264.3" cy="176.7" r="1.18" fill="rgb(45,45,51)"/>
<circle cx="268.6" cy="177.0" r="1.38" fill="rgb(74,74,80)"/>
<circle cx="272.8" cy="177.5" r="1.47" fill="rgb(55,55,61)"/>
<circle cx="277.3" cy="176.7" r="1.18" fill="rgb(68,68,74)"/>
<circle cx="282.6" cy="177.1" r="1.39" fill="rgb(66,66,72)"/>
<circle cx="285.8" cy="177.2" r="1.37" fill="rgb(72,72,78)"/>
<circle cx="289.8" cy="177.5" r="1.07" fill="rgb(73,73,79)"/>
<circle cx="293.8" cy="177.5" r="1.06" fill="rgb(78,78,84)"/>
<circle cx="298.0" cy="176.6" r="1.37" fill="rgb(53,53,59)"/>
<circle cx="301.2" cy="177.3" r="1.06" fill="rgb(59,59,65)"/>
<circle cx="305.5" cy="176.8" r="1.36" fill="rgb(68,68,74)"/>
<circle cx="310.0" cy="177.1" r="0.99" fill="rgb(48,48,54)"/>
<circle cx="314.7" cy="177.2" r="1.26" fill="rgb(48,48,54)"/>
<circle cx="319.1" cy="177.5" r="1.45" fill="rgb(64,64,70)"/>
<circle cx="323.3" cy="177.1" r="1.37" fill="rgb(45,45,51)"/>
<circle cx="327.2" cy="176.7" r="1.05" fill="rgb(67,67,73)"/>
<circle cx="331.9" cy="177.2" r="1.12" fill="rgb(59,59,65)"/>
<rect x="254.5" y="179.0" width="79.5" height="4.5" fill="#a9a9ac"/>
<circle cx="254.7" cy="186.0" r="1.21" fill="rgb(80,80,86)"/>
<circle cx="259.9" cy="185.9" r="0.96" fill="rgb(72,72,78)"/>
<circle cx="263.6" cy="185.6" r="1.00" fill="rgb(82,82,88)"/>
<circle cx="267.7" cy="185.9" r="1.46" fill="rgb(70,70,76)"/>
<circle cx="271.5" cy="185.6" r="1.35" fill="rgb(83,83,89)"/>
<circle cx="274.6" cy="185.6" r="0.97" fill="rgb(59,59,65)"/>
<circle cx="278.8" cy="185.2" r="1.30" fill="rgb(54,54,60)"/>
<circle cx="283.7" cy="186.0" r="1.11" fill="rgb(66,66,72)"/>
<circle cx="288.3" cy="185.4" r="1.32" fill="rgb(59,59,65)"/>
<circle cx="292.5" cy="185.9" r="1.29" fill="rgb(63,63,69)"/>
<circle cx="296.2" cy="185.3" r="1.04" fill="rgb(82,82,88)"/>
<circle cx="301.6" cy="185.8" r="1.07" fill="rgb(45,45,51)"/>
<circle cx="306.0" cy="185.9" r="0.99" fill="rgb(59,59,65)"/>
<circle cx="309.0" cy="185.8" r="1.13" fill="rgb(65,65,71)"/>
<circle cx="313.2" cy="185.5" r="1.27" fill="rgb(48,48,54)"/>
<circle cx="317.8" cy="185.2" r="1.45" fill="rgb(59,59,65)"/>
<circle cx="321.6" cy="186.0" r="1.36" fill="rgb(70,70,76)"/>
<circle cx="326.6" cy="186.1" r="1.10" fill="rgb(64,64,70)"/>
<circle cx="331.4" cy="185.4" r="1.13" fill="rgb(79,79,85)"/>
<circle cx="257.1" cy="188.7" r="1.36" fill="rgb(59,59,65)"/>
<circle cx="261.1" cy="189.4" r="1.05" fill="rgb(79,79,85)"/>
<circle cx="265.4" cy="188.7" r="1.09" fill="rgb(62,62,68)"/>
<circle cx="271.0" cy="188.9" r="1.21" fill="rgb(46,46,52)"/>
<circle cx="275.6" cy="189.2" r="1.28" fill="rgb(47,47,53)"/>
<circle cx="279.8" cy="189.2" r="1.44" fill="rgb(58,58,64)"/>
<circle cx="283.6" cy="189.2" r="1.42" fill="rgb(74,74,80)"/>
<circle cx="287.8" cy="189.3" r="1.15" fill="rgb(61,61,67)"/>
<circle cx="291.7" cy="188.8" r="1.48" fill="rgb(48,48,54)"/>
<circle cx="295.4" cy="189.6" r="1.10" fill="rgb(50,50,56)"/>
<circle cx="298.5" cy="189.2" r="1.14" fill="rgb(77,77,83)"/>
<circle cx="303.1" cy="188.6" r="1.13" fill="rgb(81,81,87)"/>
<circle cx="307.5" cy="189.5" r="1.14" fill="rgb(47,47,53)"/>
<circle cx="311.9" cy="189.4" r="1.15" fill="rgb(65,65,71)"/>
<circle cx="316.7" cy="188.9" r="1.46" fill="rgb(67,67,73)"/>
<circle cx="321.7" cy="189.3" r="1.11" fill="rgb(71,71,77)"/>
<circle cx="325.3" cy="189.1" r="1.13" fill="rgb(62,62,68)"/>
<circle cx="329.1" cy="189.0" r="1.22" fill="rgb(46,46,52)"/>
<circle cx="333.3" cy="188.8" r="1.12" fill="rgb(72,72,78)"/>
<circle cx="254.3" cy="192.5" r="1.26" fill="rgb(62,62,68)"/>
<circle cx="258.7" cy="192.4" r="0.98" fill="rgb(56,56,62)"/>
<circle cx="262.3" cy="192.1" r="1.46" fill="rgb(66,66,72)"/>
<circle cx="266.8" cy="192.3" r="1.31" fill="rgb(65,65,71)"/>
<circle cx="271.3" cy="192.7" r="1.47" fill="rgb(55,55,61)"/>
<circle cx="275.2" cy="192.7" r="1.10" fill="rgb(48,48,54)"/>
<circle cx="279.5" cy="192.0" r="1.33" fill="rgb(58,58,64)"/>
<circle cx="283.9" cy="192.3" r="1.45" fill="rgb(69,69,75)"/>
<circle cx="288.9" cy="192.7" r="1.05" fill="rgb(55,55,61)"/>
<circle cx="293.8" cy="192.7" r="1.24" fill="rgb(81,81,87)"/>
<circle cx="298.3" cy="192.7" r="1.07" fill="rgb(80,80,86)"/>
<circle cx="301.9" cy="192.3" r="1.10" fill="rgb(66,66,72)"/>
<circle cx="305.7" cy="192.3" r="1.00" fill="rgb(65,65,71)"/>
<circle cx="310.4" cy="192.6" r="1.03" fill="rgb(48,48,54)"/>
<circle cx="314.7" cy="192.4" r="1.24" fill="rgb(77,77,83)"/>
<circle cx="319.0" cy="192.9" r="1.04" fill="rgb(51,51,57)"/>
<circle cx="324.1" cy="193.0" r="1.24" fill="rgb(61,61,67)"/>
<circle cx="328.7" cy="192.4" r="1.19" fill="rgb(64,64,70)"/>
<circle cx="331.9" cy="192.7" r="1.33" fill="rgb(80,80,86)"/>
<circle cx="257.0" cy="195.6" r="1.24" fill="rgb(53,53,59)"/>
<circle cx="261.3" cy="196.0" r="1.36" fill="rgb(51,51,57)"/>
<circle cx="264.9" cy="196.4" r="1.36" fill="rgb(77,77,83)"/>
<circle cx="269.1" cy="196.3" r="1.35" fill="rgb(72,72,78)"/>
<circle cx="273.5" cy="196.0" r="1.17" fill="rgb(49,49,55)"/>
<circle cx="278.6" cy="195.6" r="1.29" fill="rgb(82,82,88)"/>
<circle cx="282.2" cy="196.4" r="1.31" fill="rgb(64,64,70)"/>
<circle cx="287.6" cy="195.7" r="0.95" fill="rgb(76,76,82)"/>
<circle cx="291.9" cy="195.6" r="1.30" fill="rgb(45,45,51)"/>
<circle cx="295.5" cy="196.4" r="1.27" fill="rgb(76,76,82)"/>
<circle cx="301.0" cy="196.0" r="1.46" fill="rgb(72,72,78)"/>
<circle cx="305.6" cy="196.5" r="1.26" fill="rgb(50,50,56)"/>
<circle cx="309.7" cy="195.6" r="1.27" fill="rgb(64,64,70)"/>
<circle cx="313.9" cy="195.6" r="1.05" fill="rgb(49,49,55)"/>
<circle cx="317.8" cy="195.9" r="1.08" fill="rgb(50,50,56)"/>
<circle cx="323.3" cy="196.2" r="1.17" fill="rgb(63,63,69)"/>
<circle cx="327.7" cy="196.0" r="1.08" fill="rgb(55,55,61)"/>
<circle cx="332.2" cy="195.8" r="1.26" fill="rgb(84,84,90)"/>
<filter id="semf2" x="254.5" y="290.6" width="79.5" height="47.2" filterUnits="userSpaceOnUse" color-interpolation-filters="sRGB"><feTurbulence type="fractalNoise" baseFrequency="0.32 0.42" numOctaves="2" seed="11"/><feColorMatrix type="matrix" values="1 0 0 0 0  1 0 0 0 0  1 0 0 0 0  0 0 0 0 1"/><feComponentTransfer><feFuncR type="table" tableValues="0.14 0.2 0.4 0.78 0.86 0.9"/><feFuncG type="table" tableValues="0.14 0.2 0.4 0.78 0.86 0.9"/><feFuncB type="table" tableValues="0.14 0.2 0.4 0.78 0.86 0.9"/></feComponentTransfer></filter>
<rect x="254.5" y="290.6" width="79.5" height="47.2" fill="#888" filter="url(#semf2)"/>
<rect x="254.5" y="300.0" width="79.5" height="8.0" fill="#a9a9ab" opacity="0.86"/>
<rect x="254.5" y="320.0" width="79.5" height="6.0" fill="#a9a9ab" opacity="0.86"/>
<rect x="254.5" y="57.8" width="79.5" height="45.2" fill="#363636"/>
<g fill="#ececec">
<path d="M266.80,57.00 C268.20,56.17 273.40,56.33 274.80,57.00 C276.20,57.67 275.12,59.90 275.20,61.00 C275.28,62.10 274.75,63.00 275.30,63.60 C275.85,64.20 277.67,63.90 278.50,64.60 C279.33,65.30 280.08,66.60 280.30,67.80 C280.52,69.00 280.52,70.67 279.80,71.80 C279.08,72.93 277.47,74.07 276.00,74.60 C274.53,75.13 272.42,75.27 271.00,75.00 C269.58,74.73 268.28,74.17 267.50,73.00 C266.72,71.83 266.48,69.83 266.30,68.00 C266.12,66.17 266.32,63.83 266.40,62.00 C266.48,60.17 265.40,57.83 266.80,57.00Z"/>
<path d="M253.50,58.50 C254.05,56.42 256.18,58.75 256.80,60.00 C257.42,61.25 257.23,64.08 257.20,66.00 C257.17,67.92 257.22,70.42 256.60,71.50 C255.98,72.58 254.02,74.67 253.50,72.50 C252.98,70.33 252.95,60.58 253.50,58.50Z"/>
<path d="M253.50,77.00 C253.97,75.92 255.68,76.92 256.30,77.50 C256.92,78.08 257.20,79.50 257.20,80.50 C257.20,81.50 256.92,82.92 256.30,83.50 C255.68,84.08 253.97,85.08 253.50,84.00 C253.03,82.92 253.03,78.08 253.50,77.00Z"/>
<ellipse cx="262.5" cy="87.4" rx="2.5" ry="2.4" transform="rotate(0 262.5 87.4)"/>
<path d="M268.30,79.00 C268.63,78.82 269.05,79.32 269.60,79.90 C270.15,80.48 270.88,81.65 271.60,82.50 C272.32,83.35 273.47,84.17 273.90,85.00 C274.33,85.83 274.43,86.73 274.20,87.50 C273.97,88.27 273.28,89.22 272.50,89.60 C271.72,89.98 270.35,90.07 269.50,89.80 C268.65,89.53 267.78,88.88 267.40,88.00 C267.02,87.12 267.17,85.67 267.20,84.50 C267.23,83.33 267.42,81.92 267.60,81.00 C267.78,80.08 267.97,79.18 268.30,79.00Z"/>
<ellipse cx="280.3" cy="85.7" rx="2.7" ry="3.7" transform="rotate(-10 280.3 85.7)"/>
<ellipse cx="277.2" cy="97.7" rx="4.0" ry="3.9" transform="rotate(0 277.2 97.7)"/>
<path d="M289.00,57.00 C290.35,56.33 295.13,56.17 296.50,57.00 C297.87,57.83 297.20,60.42 297.20,62.00 C297.20,63.58 296.80,65.45 296.50,66.50 C296.20,67.55 295.43,67.38 295.40,68.30 C295.37,69.22 296.23,70.63 296.30,72.00 C296.37,73.37 296.35,75.43 295.80,76.50 C295.25,77.57 293.88,78.18 293.00,78.40 C292.12,78.62 291.05,78.62 290.50,77.80 C289.95,76.98 289.68,75.08 289.70,73.50 C289.72,71.92 290.78,69.72 290.60,68.30 C290.42,66.88 288.97,66.22 288.60,65.00 C288.23,63.78 288.33,62.33 288.40,61.00 C288.47,59.67 287.65,57.67 289.00,57.00Z"/>
<path d="M302.50,57.50 C303.25,56.75 304.75,57.00 306.00,57.00 C307.25,57.00 309.13,56.67 310.00,57.50 C310.87,58.33 311.03,60.42 311.20,62.00 C311.37,63.58 310.62,65.58 311.00,67.00 C311.38,68.42 312.50,69.58 313.50,70.50 C314.50,71.42 316.20,71.50 317.00,72.50 C317.80,73.50 318.22,75.00 318.30,76.50 C318.38,78.00 318.22,80.37 317.50,81.50 C316.78,82.63 315.17,83.22 314.00,83.30 C312.83,83.38 311.33,82.88 310.50,82.00 C309.67,81.12 309.50,79.50 309.00,78.00 C308.50,76.50 308.42,74.25 307.50,73.00 C306.58,71.75 304.50,71.58 303.50,70.50 C302.50,69.42 301.83,68.00 301.50,66.50 C301.17,65.00 301.33,63.00 301.50,61.50 C301.67,60.00 301.75,58.25 302.50,57.50Z"/>
<ellipse cx="320.0" cy="61.3" rx="4.9" ry="5.3" transform="rotate(0 320.0 61.3)"/>
<path d="M325.70,57.00 C327.07,56.17 332.62,53.17 334.00,57.00 C335.38,60.83 334.25,75.42 334.00,80.00 C333.75,84.58 333.33,83.52 332.50,84.50 C331.67,85.48 330.25,85.82 329.00,85.90 C327.75,85.98 325.92,85.65 325.00,85.00 C324.08,84.35 323.58,83.08 323.50,82.00 C323.42,80.92 324.00,79.67 324.50,78.50 C325.00,77.33 326.17,76.75 326.50,75.00 C326.83,73.25 326.62,70.17 326.50,68.00 C326.38,65.83 325.93,63.83 325.80,62.00 C325.67,60.17 324.33,57.83 325.70,57.00Z"/>
<ellipse cx="296.0" cy="89.0" rx="2.5" ry="3.1" transform="rotate(0 296.0 89.0)"/>
<ellipse cx="305.2" cy="86.1" rx="2.8" ry="5.5" transform="rotate(5 305.2 86.1)"/>
<ellipse cx="296.5" cy="98.4" rx="4.2" ry="3.7" transform="rotate(0 296.5 98.4)"/>
<ellipse cx="316.3" cy="96.9" rx="4.2" ry="4.8" transform="rotate(0 316.3 96.9)"/>
<ellipse cx="333.0" cy="99.0" rx="2.4" ry="3.5" transform="rotate(0 333.0 99.0)"/>
</g>
<rect x="254.5" y="197.6" width="79.5" height="46.4" fill="#363636"/>
<g fill="#ececec">
<path d="M254.50,199.50 C255.75,198.50 260.20,198.83 262.00,199.00 C263.80,199.17 264.70,199.50 265.30,200.50 C265.90,201.50 265.62,203.42 265.60,205.00 C265.58,206.58 265.47,208.50 265.20,210.00 C264.93,211.50 264.62,213.58 264.00,214.00 C263.38,214.42 262.50,213.42 261.50,212.50 C260.50,211.58 259.17,209.75 258.00,208.50 C256.83,207.25 255.08,206.50 254.50,205.00 C253.92,203.50 253.25,200.50 254.50,199.50Z"/>
<ellipse cx="274.0" cy="205.3" rx="6.0" ry="7.4" transform="rotate(0 274.0 205.3)"/>
<path d="M284.00,199.50 C284.82,198.83 286.50,198.75 288.00,199.00 C289.50,199.25 291.50,200.17 293.00,201.00 C294.50,201.83 296.02,202.83 297.00,204.00 C297.98,205.17 298.82,206.58 298.90,208.00 C298.98,209.42 298.48,211.20 297.50,212.50 C296.52,213.80 294.58,215.18 293.00,215.80 C291.42,216.42 289.42,216.50 288.00,216.20 C286.58,215.90 285.32,215.20 284.50,214.00 C283.68,212.80 283.33,210.83 283.10,209.00 C282.87,207.17 282.95,204.58 283.10,203.00 C283.25,201.42 283.18,200.17 284.00,199.50Z"/>
<ellipse cx="259.3" cy="224.4" rx="3.9" ry="3.8" transform="rotate(0 259.3 224.4)"/>
<path d="M270.00,218.60 C271.08,217.98 273.33,218.28 275.00,218.30 C276.67,218.32 278.97,218.08 280.00,218.70 C281.03,219.32 281.28,220.70 281.20,222.00 C281.12,223.30 280.28,225.08 279.50,226.50 C278.72,227.92 277.33,229.58 276.50,230.50 C275.67,231.42 275.25,232.00 274.50,232.00 C273.75,232.00 272.83,231.50 272.00,230.50 C271.17,229.50 270.08,227.42 269.50,226.00 C268.92,224.58 268.42,223.23 268.50,222.00 C268.58,220.77 268.92,219.22 270.00,218.60Z"/>
<ellipse cx="291.6" cy="225.5" rx="4.6" ry="4.8" transform="rotate(0 291.6 225.5)"/>
<path d="M256.50,230.00 C257.18,229.30 257.75,229.30 259.00,229.80 C260.25,230.30 262.50,231.97 264.00,233.00 C265.50,234.03 267.28,235.08 268.00,236.00 C268.72,236.92 268.80,237.83 268.30,238.50 C267.80,239.17 266.55,239.78 265.00,240.00 C263.45,240.22 260.58,240.13 259.00,239.80 C257.42,239.47 256.18,238.97 255.50,238.00 C254.82,237.03 254.73,235.33 254.90,234.00 C255.07,232.67 255.82,230.70 256.50,230.00Z"/>
<ellipse cx="288.3" cy="237.5" rx="4.9" ry="3.3" transform="rotate(15 288.3 237.5)"/>
<ellipse cx="309.6" cy="204.1" rx="7.8" ry="5.9" transform="rotate(0 309.6 204.1)"/>
<ellipse cx="326.8" cy="204.8" rx="6.0" ry="6.6" transform="rotate(0 326.8 204.8)"/>
<ellipse cx="306.0" cy="216.4" rx="4.5" ry="3.7" transform="rotate(0 306.0 216.4)"/>
<ellipse cx="320.7" cy="223.8" rx="5.9" ry="6.3" transform="rotate(0 320.7 223.8)"/>
<ellipse cx="332.5" cy="218.0" rx="3.2" ry="4.5" transform="rotate(0 332.5 218.0)"/>
<ellipse cx="305.3" cy="232.0" rx="6.0" ry="6.8" transform="rotate(0 305.3 232.0)"/>
<ellipse cx="322.7" cy="238.8" rx="2.7" ry="2.5" transform="rotate(0 322.7 238.8)"/>
<ellipse cx="331.5" cy="234.7" rx="3.0" ry="3.5" transform="rotate(0 331.5 234.7)"/>
</g>
<rect x="254.5" y="337.8" width="79.5" height="46.4" fill="#363636"/>
<g fill="#ececec">
<path d="M254.00,337.50 C256.22,335.42 265.43,336.92 267.80,337.50 C270.17,338.08 268.20,339.75 268.20,341.00 C268.20,342.25 267.58,344.00 267.80,345.00 C268.02,346.00 268.55,346.62 269.50,347.00 C270.45,347.38 272.42,346.88 273.50,347.30 C274.58,347.72 275.45,348.22 276.00,349.50 C276.55,350.78 276.67,352.92 276.80,355.00 C276.93,357.08 276.93,360.00 276.80,362.00 C276.67,364.00 276.80,365.62 276.00,367.00 C275.20,368.38 273.50,369.80 272.00,370.30 C270.50,370.80 268.28,370.63 267.00,370.00 C265.72,369.37 264.85,368.17 264.30,366.50 C263.75,364.83 263.80,362.25 263.70,360.00 C263.60,357.75 263.90,354.75 263.70,353.00 C263.50,351.25 263.45,350.23 262.50,349.50 C261.55,348.77 259.33,348.52 258.00,348.60 C256.67,348.68 255.17,351.85 254.50,350.00 C253.83,348.15 251.78,339.58 254.00,337.50Z"/>
<path d="M274.30,337.50 C276.30,336.58 284.35,337.00 286.50,337.50 C288.65,338.00 286.87,339.58 287.20,340.50 C287.53,341.42 287.87,342.00 288.50,343.00 C289.13,344.00 290.12,345.33 291.00,346.50 C291.88,347.67 293.20,348.42 293.80,350.00 C294.40,351.58 294.57,353.83 294.60,356.00 C294.63,358.17 294.43,361.00 294.00,363.00 C293.57,365.00 293.00,366.78 292.00,368.00 C291.00,369.22 289.33,370.05 288.00,370.30 C286.67,370.55 285.08,370.38 284.00,369.50 C282.92,368.62 282.00,367.08 281.50,365.00 C281.00,362.92 281.00,359.50 281.00,357.00 C281.00,354.50 281.67,351.58 281.50,350.00 C281.33,348.42 280.83,348.17 280.00,347.50 C279.17,346.83 277.42,346.75 276.50,346.00 C275.58,345.25 274.87,344.42 274.50,343.00 C274.13,341.58 272.30,338.42 274.30,337.50Z"/>
<path d="M290.00,337.00 C292.92,336.08 306.08,336.17 309.50,337.00 C312.92,337.83 310.37,339.83 310.50,342.00 C310.63,344.17 310.63,347.83 310.30,350.00 C309.97,352.17 309.47,353.92 308.50,355.00 C307.53,356.08 305.75,356.42 304.50,356.50 C303.25,356.58 302.08,356.33 301.00,355.50 C299.92,354.67 299.00,352.92 298.00,351.50 C297.00,350.08 296.00,348.50 295.00,347.00 C294.00,345.50 292.83,344.17 292.00,342.50 C291.17,340.83 287.08,337.92 290.00,337.00Z"/>
<path d="M314.00,339.50 C315.23,338.42 316.67,338.25 320.00,338.00 C323.33,337.75 331.67,336.17 334.00,338.00 C336.33,339.83 334.67,347.00 334.00,349.00 C333.33,351.00 331.33,349.92 330.00,350.00 C328.67,350.08 327.50,349.33 326.00,349.50 C324.50,349.67 322.67,350.68 321.00,351.00 C319.33,351.32 317.33,351.73 316.00,351.40 C314.67,351.07 313.57,350.15 313.00,349.00 C312.43,347.85 312.43,346.08 312.60,344.50 C312.77,342.92 312.77,340.58 314.00,339.50Z"/>
<ellipse cx="326.8" cy="359.3" rx="4.6" ry="5.8" transform="rotate(0 326.8 359.3)"/>
<path d="M310.00,358.00 C311.28,357.58 314.47,357.08 316.00,357.50 C317.53,357.92 318.70,359.25 319.20,360.50 C319.70,361.75 319.20,363.58 319.00,365.00 C318.80,366.42 318.27,367.83 318.00,369.00 C317.73,370.17 317.82,371.67 317.40,372.00 C316.98,372.33 316.40,371.83 315.50,371.00 C314.60,370.17 313.12,368.33 312.00,367.00 C310.88,365.67 309.42,364.17 308.80,363.00 C308.18,361.83 308.10,360.83 308.30,360.00 C308.50,359.17 308.72,358.42 310.00,358.00Z"/>
<ellipse cx="298.0" cy="373.0" rx="6.6" ry="9.2" transform="rotate(0 298.0 373.0)"/>
<ellipse cx="277.1" cy="377.8" rx="6.6" ry="5.0" transform="rotate(25 277.1 377.8)"/>
<path d="M254.00,375.00 C254.83,373.45 257.67,374.37 259.00,374.70 C260.33,375.03 261.45,375.95 262.00,377.00 C262.55,378.05 262.47,379.83 262.30,381.00 C262.13,382.17 262.38,383.50 261.00,384.00 C259.62,384.50 255.17,385.50 254.00,384.00 C252.83,382.50 253.17,376.55 254.00,375.00Z"/>
<ellipse cx="254.3" cy="362.0" rx="2.0" ry="3.6" transform="rotate(0 254.3 362.0)"/>
<ellipse cx="318.3" cy="378.5" rx="6.6" ry="5.5" transform="rotate(0 318.3 378.5)"/>
<path d="M334.00,370.00 C333.33,368.00 330.87,370.83 330.00,372.00 C329.13,373.17 328.80,375.00 328.80,377.00 C328.80,379.00 329.13,382.83 330.00,384.00 C330.87,385.17 333.33,386.33 334.00,384.00 C334.67,381.67 334.67,372.00 334.00,370.00Z"/>
</g>
<defs><linearGradient id="gg" x1="0" y1="0.3" x2="1" y2="0.7"><stop offset="0" stop-color="#70f092"/><stop offset="0.5" stop-color="#68f286"/><stop offset="1" stop-color="#60f278"/></linearGradient><linearGradient id="gc" x1="0" y1="0" x2="1" y2="1"><stop offset="0" stop-color="#62ece4"/><stop offset="1" stop-color="#58e9e2"/></linearGradient><linearGradient id="gb" gradientUnits="userSpaceOnUse" x1="254" y1="384" x2="334" y2="405"><stop offset="0" stop-color="#a4e2f4"/><stop offset="0.14" stop-color="#a8e4f4"/><stop offset="0.26" stop-color="#c4cdf0"/><stop offset="0.36" stop-color="#d2c8f0"/><stop offset="0.47" stop-color="#d0e2f6"/><stop offset="0.56" stop-color="#cfe6f6"/><stop offset="0.66" stop-color="#c2d4f2"/><stop offset="0.76" stop-color="#bcd8f2"/><stop offset="0.86" stop-color="#a6e2f4"/><stop offset="1" stop-color="#aadcf2"/></linearGradient></defs>
<rect x="254.5" y="103.0" width="79.5" height="47.6" fill="url(#gg)"/>
<rect x="254.5" y="244.0" width="79.5" height="46.6" fill="url(#gc)"/>
<rect x="254.5" y="384.2" width="79.5" height="46.4" fill="url(#gb)"/>
<path d="M254.5,57.8H334.0 M254.5,103.0H334.0 M254.5,150.6H334.0 M254.5,197.6H334.0 M254.5,244.0H334.0 M254.5,290.6H334.0 M254.5,337.8H334.0 M254.5,384.2H334.0" stroke="#1a1a1a" stroke-width="1.2" fill="none"/>
<rect x="254.5" y="10.6" width="79.5" height="420" fill="none" stroke="#1a1a1a" stroke-width="1.3"/>
<text x="256.4" y="21.8" font-size="10.5" font-family="&quot;Liberation Sans&quot;, sans-serif" font-weight="bold" fill="#e8e830" stroke="#e8e830" stroke-width="0.3">(i)</text>
<path d="M282.5,52.4H295.6" stroke="#e8e830" stroke-width="1.8"/>
<text x="298.6" y="55.1" font-size="9.3" font-family="&quot;Liberation Sans&quot;, sans-serif" font-weight="bold" fill="#e8e830" stroke="#e8e830" stroke-width="0.3">100 nm</text>
<text x="256.8" y="68.6" font-size="10" font-family="&quot;Liberation Sans&quot;, sans-serif" font-weight="bold" fill="#e01818" stroke="#e01818" stroke-width="0.3">(ii)</text>
<text x="257" y="114.0" font-size="9.5" font-family="&quot;Liberation Sans&quot;, sans-serif" font-weight="bold" fill="#1a1a2a" stroke="#1a1a2a" stroke-width="0.3">(iii)</text>
<text x="256.4" y="161.8" font-size="10.5" font-family="&quot;Liberation Sans&quot;, sans-serif" font-weight="bold" fill="#e8e830" stroke="#e8e830" stroke-width="0.3">(i)</text>
<path d="M282.5,192.4H295.6" stroke="#e8e830" stroke-width="1.8"/>
<text x="298.6" y="195.1" font-size="9.3" font-family="&quot;Liberation Sans&quot;, sans-serif" font-weight="bold" fill="#e8e830" stroke="#e8e830" stroke-width="0.3">100 nm</text>
<text x="256.8" y="208.6" font-size="10" font-family="&quot;Liberation Sans&quot;, sans-serif" font-weight="bold" fill="#e01818" stroke="#e01818" stroke-width="0.3">(ii)</text>
<text x="257" y="254.0" font-size="9.5" font-family="&quot;Liberation Sans&quot;, sans-serif" font-weight="bold" fill="#1a1a2a" stroke="#1a1a2a" stroke-width="0.3">(iii)</text>
<text x="256.4" y="301.8" font-size="10.5" font-family="&quot;Liberation Sans&quot;, sans-serif" font-weight="bold" fill="#e8e830" stroke="#e8e830" stroke-width="0.3">(i)</text>
<path d="M282.5,332.4H295.6" stroke="#e8e830" stroke-width="1.8"/>
<text x="298.6" y="335.1" font-size="9.3" font-family="&quot;Liberation Sans&quot;, sans-serif" font-weight="bold" fill="#e8e830" stroke="#e8e830" stroke-width="0.3">100 nm</text>
<text x="256.8" y="348.6" font-size="10" font-family="&quot;Liberation Sans&quot;, sans-serif" font-weight="bold" fill="#e01818" stroke="#e01818" stroke-width="0.3">(ii)</text>
<text x="257" y="394.0" font-size="9.5" font-family="&quot;Liberation Sans&quot;, sans-serif" font-weight="bold" fill="#1a1a2a" stroke="#1a1a2a" stroke-width="0.3">(iii)</text>
<text x="295.2" y="98.9" font-size="9.3" font-family="&quot;Liberation Sans&quot;, sans-serif" font-weight="bold" fill="#e01818" stroke="#e01818" stroke-width="0.3"><tspan font-style="italic">φ</tspan> = 23%</text>
<text x="295.2" y="238.9" font-size="9.3" font-family="&quot;Liberation Sans&quot;, sans-serif" font-weight="bold" fill="#e01818" stroke="#e01818" stroke-width="0.3"><tspan font-style="italic">φ</tspan> = 46%</text>
<text x="295.2" y="378.9" font-size="9.3" font-family="&quot;Liberation Sans&quot;, sans-serif" font-weight="bold" fill="#e01818" stroke="#e01818" stroke-width="0.3"><tspan font-style="italic">φ</tspan> = 53%</text>
<text x="331.2" y="147.6" font-size="10" font-family="&quot;Liberation Sans&quot;, sans-serif" font-weight="bold" text-anchor="end" fill="#142020" stroke="#142020" stroke-width="0.3">Green</text>
<text x="331.2" y="287.6" font-size="10" font-family="&quot;Liberation Sans&quot;, sans-serif" font-weight="bold" text-anchor="end" fill="#142020" stroke="#142020" stroke-width="0.3">Cyan</text>
<text x="331.2" y="427.6" font-size="10" font-family="&quot;Liberation Sans&quot;, sans-serif" font-weight="bold" text-anchor="end" fill="#142020" stroke="#142020" stroke-width="0.3">Blue</text>
</svg>
</body></html>
